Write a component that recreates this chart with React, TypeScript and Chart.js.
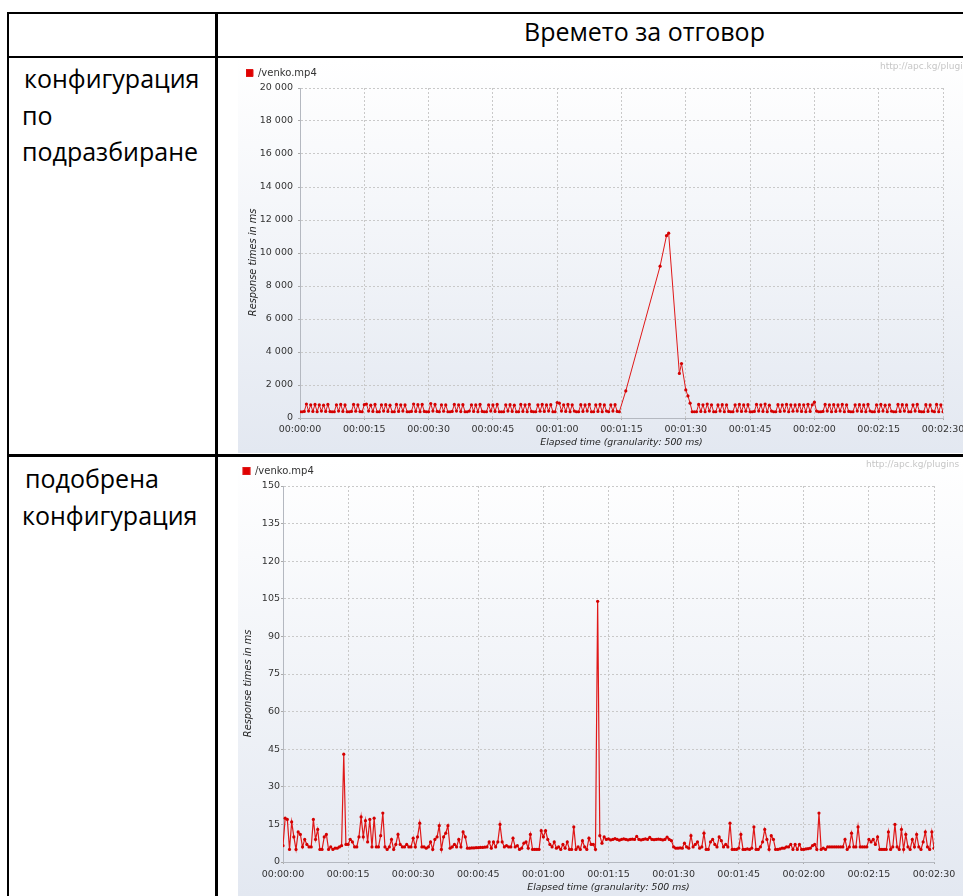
import { useEffect, useRef } from 'react';
import { Chart, registerables } from 'chart.js';

Chart.register(...registerables);

// ---- data ---------------------------------------------------------------
// Samples are taken every 500 ms, index i -> i * SAMPLE_STEP_S seconds.
const SAMPLE_STEP_S = 0.5;
const X_TICK_STEP_S = 15;
const seriesLabel = '/venko.mp4';

const xTickLabels = [
  '00:00:00', '00:00:15', '00:00:30', '00:00:45', '00:01:00', '00:01:15',
  '00:01:30', '00:01:45', '00:02:00', '00:02:15', '00:02:30',
];

const defaultYTickLabels = [
  '0', '2 000', '4 000', '6 000', '8 000', '10 000',
  '12 000', '14 000', '16 000', '18 000', '20 000',
];
const tunedYTickLabels = ['0', '15', '30', '45', '60', '75', '90', '105', '120', '135', '150'];

// default configuration: response times (ms) before the stall, 0 .. 74.5 s
const defaultBeforeMs = [
  380, 380, 400, 850, 420, 800, 400, 820, 380, 800, 420, 780, 400, 820, 390, 380, 380, 800, 420, 820, 400, 790, 380, 380, 400, 820, 410, 800, 390, 380,
  810, 850, 420, 780, 400, 820, 380, 380, 800, 420, 810, 400, 780, 380, 380, 820, 400, 800, 420, 790, 380, 380, 400, 850, 400, 810, 380, 820, 400, 380,
  380, 880, 420, 820, 400, 380, 800, 410, 790, 380, 380, 400, 820, 420, 800, 390, 810, 380, 380, 420, 800, 400, 790, 380, 820, 400, 380, 380, 800, 420,
  790, 400, 820, 380, 380, 380, 800, 420, 810, 400, 780, 380, 380, 820, 400, 800, 380, 820, 400, 380, 380, 800, 410, 820, 400, 790, 420, 810, 380, 380,
  940, 900, 420, 800, 400, 820, 380, 800, 420, 380, 380, 810, 400, 790, 420, 820, 380, 380, 800, 400, 820, 380, 790, 420, 380, 800, 420, 810, 400, 380,
];

// the stall, 75 .. 91.5 s (null = no sample in that slot)
const defaultStallMs = [
  null, null, 1640, null, null, null, null, null, null, null, null, null, null, null, null, null, null, null,
  9200, null, null, 11050, 11200, null, null, null, null, 2700, 3300, null, 1700, 1340, 900, 380,
];

// after the stall, 92 .. 150 s
const defaultAfterMs = [
  380, 380, 820, 400, 800, 380, 850, 420, 800, 380, 380, 790, 420, 810, 380, 800, 400, 380, 380, 800, 420, 820, 400, 790, 410, 810,
  380, 380, 400, 820, 420, 800, 400, 850, 380, 780, 420, 380, 380, 810, 400, 800, 420, 820, 380, 800, 410, 790, 420, 810, 400, 800, 380, 830, 400, 800,
  960, 420, 380, 380, 400, 820, 420, 800, 380, 810, 400, 790, 420, 820, 380, 800, 400, 380, 380, 800, 420, 810, 400, 790, 380, 820, 420, 380, 380, 800,
  400, 820, 420, 780, 380, 800, 410, 380, 380, 820, 400, 810, 420, 790, 380, 380, 800, 420, 820, 400, 380, 380, 810, 400, 790, 420, 380, 820, 380, 800, 380,
];

// improved configuration: response times (ms), 0 .. 72.5 s
const tunedBeforeMs = [
  6.5, 17.5, 17, 5, 16, 10, 5, 12, 11, 6, 9, 7, 6, 6, 17, 9, 13, 5, 5, 10,
  11, 5, 6, 5, 5.5, 5.5, 6, 6.5, 43, 7, 7, 9, 8, 6, 6, 10, 18, 10, 16.5, 8,
  17, 6, 17.5, 6, 6, 10.5, 19.5, 6, 5, 6, 9, 5, 7, 11, 7, 6, 6, 7, 6, 6,
  9.5, 6, 10, 15.5, 6, 6, 5.5, 6, 8, 5, 9, 10, 14.5, 5, 10, 11.5, 14.5, 5.5, 6, 7,
  6, 9, 6, 12, 10, 5.5, 5.5, 5.6, 5.6, 5.7, 5.7, 5.8, 5.8, 5.9, 6, 8, 5.5, 8, 6, 8,
  15, 8, 6, 6.5, 6, 6, 9.5, 6, 6.5, 5, 5.5, 7.5, 8, 5.5, 11, 5, 5, 5, 5, 12.5,
  10, 12.5, 9, 7, 6, 8, 5.5, 6, 5, 7, 5.5, 8, 5, 5, 14, 5, 6, 5, 8.5, 6,
  5, 9.5, 7, 7, 5, 104,
];

// improved configuration, 73 .. 150 s
const tunedAfterMs = [
  10.5, 7.5, 10,
  9, 9.2, 8.8, 9, 9.3, 9, 8.7, 9, 9.2, 9, 8.8, 9, 9.1, 9, 10.2, 9, 8.8, 9, 9.2, 9, 9.8, 9, 8.9, 9, 9.1, 9, 8.8, 9, 9.9, 9, 8.5,
  6, 5.5, 5.5, 5.6, 5.5, 7.5, 6, 5.5, 10.5, 6, 7, 8, 5.5, 6, 11.5, 5, 5, 8, 9, 7,
  6, 10, 8.5, 6, 7, 6, 15.5, 5, 5, 5, 5.5, 11, 5, 5, 5.2, 5, 5.5, 14, 5, 5,
  6, 8, 13, 9, 5, 10.5, 9, 5, 5, 5.2, 5.5, 5.5, 6, 6, 7, 5, 7, 5, 7, 5,
  5, 5.2, 5.3, 5.5, 6.5, 7, 5, 19.5, 5, 5.5, 5, 6, 6, 6, 6, 6, 6, 6, 6, 9,
  5, 6, 11.5, 6, 6, 14, 6, 6, 6, 6, 9, 8, 9, 7, 10, 5, 5, 5, 5, 12,
  5, 6, 15, 6, 5, 13, 5, 11, 6, 5, 9, 6, 11, 6, 5, 8, 12, 6, 5, 12, 5.5,
];

const defaultSeries = [...defaultBeforeMs, ...defaultStallMs, ...defaultAfterMs];
const tunedSeries = [...tunedBeforeMs, ...tunedAfterMs];

// ---- chart --------------------------------------------------------------
const FONT = 'DejaVu Sans';
const RED = '#e01818';
// JMeter sets the value-axis caption a little below the axis centre;
// trailing figure spaces push the centred caption down by the same amount.
const Y_TITLE = 'Response times in ms' + '\u2007\u2007\u2007';

const backdrop = {
  id: 'backdrop',
  beforeDraw(chart: any) {
    const { ctx, width, height } = chart;
    const g = ctx.createLinearGradient(0, 0, 0, height);
    g.addColorStop(0, '#ffffff');
    g.addColorStop(1, '#e3e8f1');
    ctx.save();
    ctx.fillStyle = g;
    ctx.fillRect(0, 0, width, height);
    ctx.restore();
  },
};

const watermark = {
  id: 'watermark',
  afterDraw(chart: any, _args: any, opts: any) {
    const { ctx } = chart;
    ctx.save();
    ctx.font = `9px "${FONT}"`;
    ctx.fillStyle = '#c6c6c6';
    ctx.textBaseline = 'middle';
    ctx.textAlign = 'left';
    ctx.fillText('http://apc.kg/plugins', opts.x, opts.y);
    ctx.restore();
  },
};

type Frame = {
  left: number; top: number; width: number; height: number;
  padTop: number; padLeft: number; padRight: number; legendPad: number;
  yAxisW: number; xAxisH: number; yTickPad: number; xTickPad: number;
  yTitlePad: number; xTitlePad: number; markX: number; markY: number;
};

function ResponseChart(props: {
  values: (number | null)[];
  yMax: number;
  yLabels: string[];
  frame: Frame;
  lineWidth: number;
}) {
  const ref = useRef<HTMLCanvasElement | null>(null);
  const { values, yMax, yLabels, frame, lineWidth } = props;

  useEffect(() => {
    if (!ref.current) return;
    const yStep = yMax / (yLabels.length - 1);
    const xMax = X_TICK_STEP_S * (xTickLabels.length - 1);
    const chart = new Chart(ref.current, {
      type: 'line',
      data: {
        datasets: [
          {
            label: seriesLabel,
            data: values.map((v, i) => ({ x: i * SAMPLE_STEP_S, y: v })) as any,
            borderColor: RED,
            backgroundColor: '#e00000',
            borderWidth: lineWidth,
            pointRadius: 1.6,
            pointBorderWidth: 0,
            pointBackgroundColor: '#d40000',
            spanGaps: true,
            tension: 0,
            fill: false,
          },
        ],
      },
      options: {
        animation: false,
        responsive: false,
        maintainAspectRatio: false,
        layout: { padding: { top: frame.padTop, left: frame.padLeft, right: frame.padRight, bottom: 0 } },
        plugins: {
          legend: {
            position: 'top',
            align: 'start',
            labels: {
              boxWidth: 7,
              boxHeight: 7,
              padding: frame.legendPad,
              color: '#333',
              font: { family: FONT, size: 10 },
            },
          },
          tooltip: { enabled: false },
          watermark: { x: frame.markX, y: frame.markY },
        } as any,
        scales: {
          x: {
            type: 'linear',
            min: 0,
            max: xMax,
            afterFit: (s: any) => {
              s.height = frame.xAxisH;
              // let the last time label run to the canvas edge instead of shrinking the plot
              s.paddingRight = 0;
            },
            ticks: {
              stepSize: X_TICK_STEP_S,
              autoSkip: false,
              maxRotation: 0,
              padding: frame.xTickPad,
              color: '#333',
              font: { family: FONT, size: 9.5 },
              callback: (v: any) => xTickLabels[Math.round(Number(v) / X_TICK_STEP_S)] ?? '',
            },
            grid: { color: '#c9c9c9', tickLength: 2, tickColor: '#aaaaaa' },
            border: { color: '#b4b8c0', dash: [2, 2] },
            title: {
              display: true,
              text: 'Elapsed time (granularity: 500 ms)',
              color: '#222',
              font: { family: FONT, size: 9.3, style: 'italic' },
              padding: { top: 0, bottom: frame.xTitlePad },
            },
          },
          y: {
            type: 'linear',
            min: 0,
            max: yMax,
            afterFit: (s: any) => { s.width = frame.yAxisW; },
            ticks: {
              stepSize: yStep,
              padding: frame.yTickPad,
              color: '#333',
              font: { family: FONT, size: 9.5 },
              callback: (v: any) => yLabels[Math.round(Number(v) / yStep)] ?? '',
            },
            grid: { color: '#c9c9c9', tickLength: 2, tickColor: '#aaaaaa' },
            border: { color: '#b4b8c0', dash: [2, 2] },
            title: {
              display: true,
              text: Y_TITLE,
              color: '#222',
              font: { family: FONT, size: 9.8, style: 'italic' },
              padding: { top: frame.yTitlePad, bottom: 0 },
            },
          },
        },
      },
      plugins: [backdrop, watermark],
    });
    return () => chart.destroy();
  }, [values, yMax, yLabels, frame, lineWidth]);

  return (
    <canvas
      ref={ref}
      width={frame.width}
      height={frame.height}
      style={{ position: 'absolute', left: frame.left, top: frame.top, width: frame.width, height: frame.height }}
    />
  );
}

const defaultFrame: Frame = {
  left: 238, top: 60, width: 725, height: 393,
  padTop: 8, padLeft: 8, padRight: 20, legendPad: 0,
  yAxisW: 54, xAxisH: 35, yTickPad: 5, xTickPad: 3.5,
  yTitlePad: 2, xTitlePad: 5, markX: 642, markY: 7,
};

const tunedFrame: Frame = {
  left: 238, top: 460, width: 725, height: 436,
  padTop: 4, padLeft: 3, padRight: 29, legendPad: 2,
  yAxisW: 42, xAxisH: 34, yTickPad: 1, xTickPad: 4.5,
  yTitlePad: 2, xTitlePad: 3, markX: 628, markY: 5,
};

const cellText: React.CSSProperties = {
  position: 'absolute',
  fontFamily: '"Open Sans", "Noto Sans", sans-serif',
  fontSize: 25,
  lineHeight: '36.7px',
  color: '#000',
  whiteSpace: 'nowrap',
};

const rule = (left: number, top: number, width: number, height: number) => (
  <div style={{ position: 'absolute', left, top, width, height, background: '#000' }} />
);

export default function App() {
  return (
    <div style={{ position: 'fixed', left: 0, top: 0, width: 963, height: 896, overflow: 'hidden', background: '#fff' }}>
      <ResponseChart values={defaultSeries} yMax={20000} yLabels={defaultYTickLabels} frame={defaultFrame} lineWidth={1} />
      <ResponseChart values={tunedSeries} yMax={150} yLabels={tunedYTickLabels} frame={tunedFrame} lineWidth={1.2} />

      {rule(7, 12, 960, 2)}
      {rule(7, 56, 960, 2)}
      {rule(7, 454, 960, 3)}
      {rule(7, 12, 2, 884)}
      {rule(215, 12, 3, 884)}

      <div style={{ ...cellText, left: 218, width: 745, top: 13, textAlign: 'center', paddingLeft: 108, boxSizing: 'border-box' }}>
        Времето за отговор
      </div>

      <div style={{ ...cellText, left: 24, top: 60 }}>конфигурация</div>
      <div style={{ ...cellText, left: 22, top: 96.7 }}>по</div>
      <div style={{ ...cellText, left: 22, top: 133.4 }}>подразбиране</div>

      <div style={{ ...cellText, left: 25, top: 459.5 }}>подобрена</div>
      <div style={{ ...cellText, left: 22, top: 496.5 }}>конфигурация</div>
    </div>
  );
}
